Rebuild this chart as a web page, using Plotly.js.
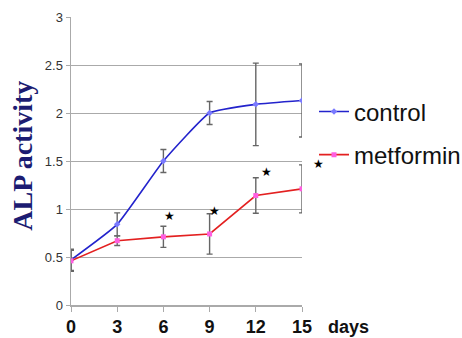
<!DOCTYPE html>
<html><head><meta charset="utf-8">
<script src="https://cdn.plot.ly/plotly-3.0.1.min.js"></script>
<style>html,body{margin:0;padding:0;background:#fff;}#chart{width:462px;height:338px;}</style>
</head><body><div id="chart"></div>
<script>
var days = [0, 3, 6, 9, 12, 15];
var xTickLabels = ['0', '3', '6', '9', '12', '15'];
var controlValues = [0.47, 0.84, 1.50, 2.00, 2.09, 2.13];
var controlErr = [0.11, 0.12, 0.12, 0.12, 0.43, 0.38];
var metforminValues = [0.46, 0.67, 0.71, 0.74, 1.14, 1.21];
var metforminErr = [0.11, 0.05, 0.11, 0.21, 0.185, 0.25];
var starX = [6.4, 9.3, 12.7, 16.1];
var starY = [0.93, 0.98, 1.39, 1.47];
var xMax = 15;

var L = 71, R = 302, T = 16.5, B = 305;
var W = 462, H = 338;

var traces = [
  {x: days, y: controlValues, name: 'control', type: 'scatter', mode: 'lines+markers',
   legendgroup: 'a',
   line: {color: '#2323cc', width: 1.6, shape: 'spline', smoothing: 0.4},
   marker: {symbol: 'diamond', size: 5, color: '#7a7aff'},
   error_y: {type: 'data', array: controlErr, visible: true, color: '#666', thickness: 1.4, width: 3}},
  {x: days, y: metforminValues, name: 'metformin', type: 'scatter', mode: 'lines+markers',
   legendgroup: 'b',
   line: {color: '#e32020', width: 1.6},
   marker: {symbol: 'square', size: 5, color: '#ff5ee0'},
   error_y: {type: 'data', array: metforminErr, visible: true, color: '#666', thickness: 1.4, width: 3}}
];

var annotations = [
  {text: 'days', xref: 'paper', yref: 'paper', x: (326 - L) / (R - L), xanchor: 'left',
   y: (B - 327) / (B - T), yanchor: 'middle', showarrow: false,
   font: {family: 'Liberation Sans, Arial, sans-serif', size: 18, color: '#111', weight: 'bold'}},
  {text: '<b>ALP activity</b>', xref: 'paper', yref: 'paper', x: (23 - L) / (R - L), xanchor: 'center',
   y: (B - 155.5) / (B - T), yanchor: 'middle', textangle: -90, showarrow: false,
   font: {family: 'Liberation Serif, Times New Roman, serif', size: 28, color: '#1c1c72'}}
];
starX.forEach(function (sx, i) {
  annotations.push({text: '★', xref: 'paper', yref: 'y', x: sx / xMax, y: starY[i],
    xanchor: 'center', yanchor: 'middle', showarrow: false,
    font: {family: 'DejaVu Sans, sans-serif', size: 12, color: '#000'}});
});

var layout = {
  width: W, height: H,
  margin: {l: L, r: W - R, t: T, b: H - B, pad: 0, autoexpand: false},
  paper_bgcolor: '#fff', plot_bgcolor: '#fff',
  showlegend: true,
  legend: {x: (314 - L) / (R - L), xanchor: 'left', y: (B - 89) / (B - T), yanchor: 'top',
           font: {family: 'Liberation Sans, Arial, sans-serif', size: 24, color: '#111'},
           traceorder: 'grouped', tracegroupgap: 9, itemwidth: 30, bgcolor: 'rgba(0,0,0,0)'},
  xaxis: {range: [0, xMax], tickvals: days, ticktext: xTickLabels, showgrid: false, zeroline: false,
          showline: true, linecolor: '#aaa', linewidth: 1.5, ticks: 'outside', ticklen: 5, tickcolor: '#aaa',
          tickfont: {family: 'Liberation Sans, Arial, sans-serif', size: 18, color: '#111', weight: 'bold'}},
  yaxis: {range: [0, 3], dtick: 0.5, tick0: 0, showgrid: true, gridcolor: '#aaa', gridwidth: 1, zeroline: false,
          showline: true, linecolor: '#aaa', linewidth: 1.5, ticks: 'outside', ticklen: 4, tickcolor: '#aaa',
          tickfont: {family: 'Liberation Sans, Arial, sans-serif', size: 13, color: '#333'}},
  annotations: annotations
};
Plotly.newPlot('chart', traces, layout, {displayModeBar: false, staticPlot: true});
</script></body></html>
